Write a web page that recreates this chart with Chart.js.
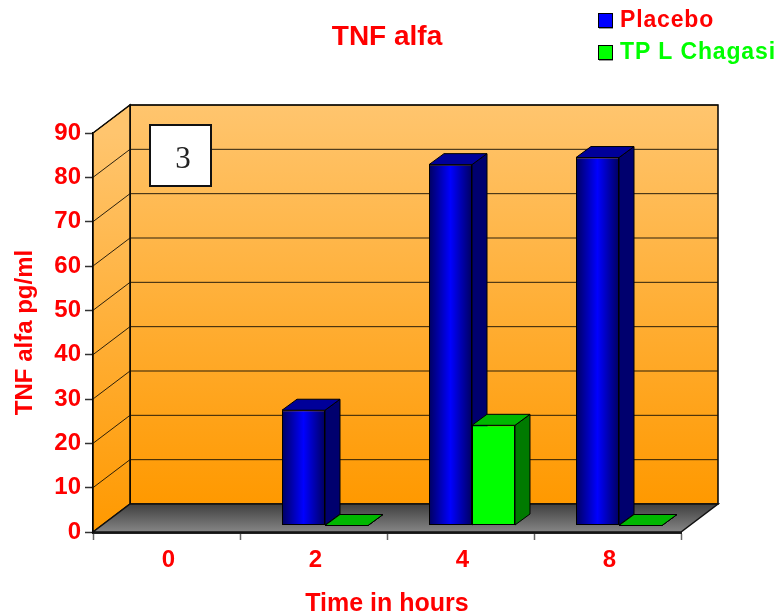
<!DOCTYPE html>
<html>
<head>
<meta charset="utf-8">
<title>TNF alfa</title>
<script src="https://cdn.jsdelivr.net/npm/chart.js@4/dist/chart.umd.min.js"></script>
<style>
  html, body { margin: 0; padding: 0; background: #fff; }
  canvas { display: block; }
</style>
</head>
<body>
<canvas id="chart" width="777" height="615"></canvas>
<script>
// Data
const hours = ["0", "2", "4", "8"];
const placebo = [null, 26, 81.4, 83];
const chagasi = [null, 0, 22.6, 0];
const seriesNames = ["Placebo", "TP L Chagasi"];
const panelLabel = "3";

const RED = "#ff0000";
const GREEN = "#00ff00";
const FONT = "'Liberation Sans', Arial, sans-serif";

// 3D look: how far the walls and the bars are pushed back
const wallDepth = { x: 37, y: -28 };
const barInset = { x: 11.5, y: -6.5 };
const barDepth = { x: 15, y: -11 };

function polygon(ctx, pts, fill, stroke, lineWidth) {
  ctx.beginPath();
  pts.forEach((p, i) => (i ? ctx.lineTo(p[0], p[1]) : ctx.moveTo(p[0], p[1])));
  ctx.closePath();
  ctx.fillStyle = fill;
  ctx.fill();
  if (stroke) {
    ctx.strokeStyle = stroke;
    ctx.lineWidth = lineWidth || 1;
    ctx.stroke();
  }
}

function blueGradient(context) {
  const chart = context.chart;
  if (context.dataIndex === undefined || !chart.scales.x) return "#0000ff";
  const right = chart.scales.x.getPixelForValue(context.dataIndex);
  if (!Number.isFinite(right)) return "#0000ff";
  const width = chart.scales.x.width / hours.length * 0.585 / 2;
  const g = chart.ctx.createLinearGradient(right - width, 0, right, 0);
  g.addColorStop(0, "#000060");
  g.addColorStop(0.5, "#0000ff");
  g.addColorStop(1, "#000060");
  return g;
}

/* Walls, floor and grid behind the bars */
const box3d = {
  id: "box3d",
  beforeDatasetsDraw(chart) {
    const { ctx, chartArea: a, scales } = chart;
    const dx = wallDepth.x, dy = wallDepth.y;
    ctx.save();

    const wall = ctx.createLinearGradient(0, a.top + dy, 0, a.bottom + dy);
    wall.addColorStop(0, "#ffc56e");
    wall.addColorStop(1, "#ff9900");
    polygon(ctx, [[a.left + dx, a.top + dy], [a.right + dx, a.top + dy], [a.right + dx, a.bottom + dy], [a.left + dx, a.bottom + dy]], wall, "#000", 1.5);

    const side = ctx.createLinearGradient(0, a.top, 0, a.bottom);
    side.addColorStop(0, "#ffc56e");
    side.addColorStop(1, "#ff9900");
    polygon(ctx, [[a.left, a.top], [a.left + dx, a.top + dy], [a.left + dx, a.bottom + dy], [a.left, a.bottom]], side, "#000", 1.5);

    scales.y.ticks.forEach((t) => {
      if (t.value === 0) return;
      const y = scales.y.getPixelForValue(t.value);
      ctx.beginPath();
      ctx.moveTo(a.left, y);
      ctx.lineTo(a.left + dx, y + dy);
      ctx.lineTo(a.right + dx, y + dy);
      ctx.strokeStyle = "rgba(20,15,5,0.9)";
      ctx.lineWidth = 1;
      ctx.stroke();
    });

    const floor = ctx.createLinearGradient(0, a.bottom + dy, 0, a.bottom);
    floor.addColorStop(0, "#3f3f3f");
    floor.addColorStop(1, "#858585");
    polygon(ctx, [[a.left, a.bottom], [a.left + dx, a.bottom + dy], [a.right + dx, a.bottom + dy], [a.right, a.bottom]], floor, "#111", 1.5);

    // the tops and sides of the bars, the library paints the fronts over them
    ctx.translate(barInset.x, barInset.y);
    const looks = [
      { top: "#000099", side: "#00006e" },
      { top: "#00b800", side: "#007a00" },
    ];
    chart.data.datasets.forEach((ds, d) => {
      chart.getDatasetMeta(d).data.forEach((bar, i) => {
        if (ds.data[i] === null) return;
        const { x, y, base, width } = bar.getProps(["x", "y", "base", "width"], true);
        const l = x - width / 2, r = x + width / 2;
        const bx = barDepth.x, by = barDepth.y;
        polygon(ctx, [[r, y], [r + bx, y + by], [r + bx, base + by], [r, base]], looks[d].side, "#000", 1);
        polygon(ctx, [[l, y], [l + bx, y + by], [r + bx, y + by], [r, y]], looks[d].top, "#000", 1);
      });
    });
    ctx.restore();

    ctx.save();
    ctx.translate(barInset.x, barInset.y);
  },
  afterDatasetsDraw(chart) {
    chart.ctx.restore();
  },
  afterDraw(chart) {
    const ctx = chart.ctx;
    ctx.save();

    // numbered box on the back wall
    ctx.fillStyle = "#fff";
    ctx.strokeStyle = "#111";
    ctx.lineWidth = 2;
    ctx.fillRect(150, 125, 61, 61);
    ctx.strokeRect(150, 125, 61, 61);
    ctx.fillStyle = "#222";
    ctx.font = "31px 'Liberation Serif', serif";
    ctx.textAlign = "center";
    ctx.textBaseline = "middle";
    ctx.fillText(panelLabel, 183, 160);

    // legend
    const colors = ["#0000ff", GREEN];
    const textColors = [RED, GREEN];
    const rows = [27, 59];
    ctx.textAlign = "left";
    ctx.textBaseline = "alphabetic";
    ctx.font = "bold 23px " + FONT;
    ctx.letterSpacing = "0.85px";
    seriesNames.forEach((name, i) => {
      ctx.fillStyle = "#999";
      ctx.fillRect(599, rows[i] - 13, 14, 15);
      ctx.fillStyle = colors[i];
      ctx.strokeStyle = "#000";
      ctx.lineWidth = 1;
      ctx.fillRect(598.5, rows[i] - 13.5, 14, 14);
      ctx.strokeRect(598.5, rows[i] - 13.5, 14, 14);
      ctx.fillStyle = textColors[i];
      ctx.fillText(name, 620, rows[i]);
    });
    ctx.restore();
  },
};

new Chart(document.getElementById("chart"), {
  type: "bar",
  data: {
    labels: hours,
    datasets: [
      { label: seriesNames[0], data: placebo, backgroundColor: blueGradient, clip: false },
      { label: seriesNames[1], data: chagasi, backgroundColor: GREEN, clip: false },
    ],
  },
  plugins: [box3d],
  options: {
    responsive: false,
    animation: false,
    devicePixelRatio: 1,
    layout: { padding: { left: 0, right: 96, top: 0, bottom: 0 } },
    datasets: {
      bar: {
        categoryPercentage: 0.585,
        barPercentage: 1,
        borderWidth: 1,
        borderColor: "#000",
        borderSkipped: false,
      },
    },
    plugins: {
      legend: { display: false },
      tooltip: { enabled: false },
      title: {
        display: true,
        text: "TNF alfa",
        color: RED,
        fullSize: false,
        font: { family: FONT, size: 28, weight: "bold" },
        padding: { top: 20.2, bottom: 79.2 },
      },
    },
    scales: {
      x: {
        afterFit: (scale) => { scale.height = 83; },
        border: { color: "#222", width: 3 },
        grid: { drawOnChartArea: false, tickLength: 8, tickColor: "#666", tickWidth: 1.5 },
        ticks: { color: RED, padding: 6, labelOffset: 2, maxRotation: 0, font: { family: FONT, size: 24, weight: "bold" } },
        title: {
          display: true,
          text: "Time in hours",
          color: RED,
          font: { family: FONT, size: 25, weight: "bold", lineHeight: 0.9 },
          padding: { top: 0, bottom: 0 },
        },
      },
      y: {
        min: 0,
        max: 90,
        afterFit: (scale) => { scale.width = 93; },
        border: { color: "#000", width: 1.5 },
        grid: { drawOnChartArea: false, tickLength: 8, tickColor: "#333", tickWidth: 1.5 },
        ticks: { stepSize: 10, color: RED, padding: 4, font: { family: FONT, size: 24, weight: "bold" } },
        title: {
          display: true,
          text: "TNF alfa pg/ml",
          color: RED,
          font: { family: FONT, size: 24, weight: "bold" },
          padding: { top: 11, bottom: 0 },
        },
      },
    },
  },
});
</script>
</body>
</html>
